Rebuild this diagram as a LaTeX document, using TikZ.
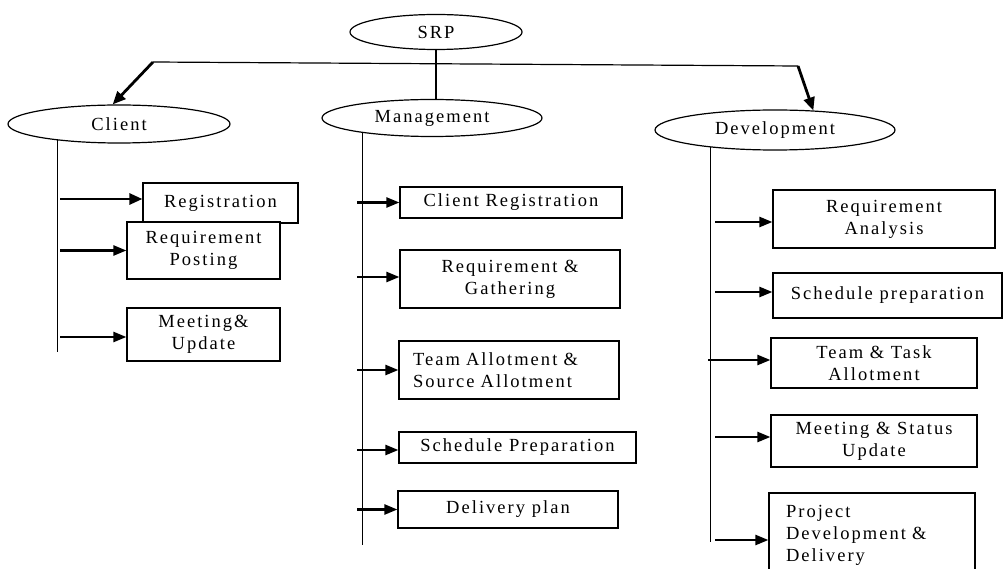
\documentclass[tikz,border=0pt]{standalone}
\usepackage{fontspec}
\setmainfont{Liberation Serif}[LetterSpace=11]
\usetikzlibrary{shapes.geometric,arrows.meta}
\newcommand\lbl{\fontsize{18.5}{22}\selectfont}
\tikzset{
  box/.style={draw, line width=1.2pt, rectangle, fill=white, inner sep=0pt, align=center, font=\lbl},
  oval/.style={draw, ellipse, line width=1.2pt, inner sep=0pt, font=\lbl},
  ln/.style={line width=1.2pt},
  arr/.style={line width=2.4pt, -{Triangle[length=13pt,width=10pt]}},
  bigarr/.style={line width=2.8pt, -{Triangle[length=13pt,width=11pt]}},
}
\begin{document}
\begin{tikzpicture}[x=1pt,y=-1pt]
\useasboundingbox[fill=white] (0,0) rectangle (1003,569);

% top level
\node[oval, minimum width=172pt, minimum height=35pt] (srp) at (436,32) {SRP};
\node[oval, minimum width=222pt, minimum height=38pt] (client) at (119,124) {Client};
\node[oval, minimum width=220pt, minimum height=37pt] (mgmt) at (432,118) {Management};
\node[oval, minimum width=240pt, minimum height=40pt] (dev) at (775,130) {Development};

\coordinate (hl) at (153,62);
\coordinate (hr) at (798,66);
\draw[ln] (hl) -- (hr);
\draw[ln] (srp.south) -- (srp.south |- mgmt.north);
\draw[bigarr] (hl) -- (client.108);
\draw[bigarr] (hr) -- (dev.27);

% Client branch
\node[box, minimum width=155pt, minimum height=40pt] (reg) at (220.5,203) {Registration};
\node[box, minimum width=153pt, minimum height=57pt] (rpost) at (203.5,250.5) {Requirement\\Posting};
\node[box, minimum width=153pt, minimum height=53pt] (meet) at (203.5,334.5) {Meeting\&\\Update};
\coordinate (cbot) at (60,352);
\draw[ln] (client.195.2) -- (client.195.2 |- cbot);
\draw[bigarr] ([yshift=4pt]reg.west -| cbot) -- ([yshift=4pt]reg.west);
\draw[arr] (rpost.west -| cbot) -- (rpost.west);
\draw[arr] ([yshift=-2.5pt]meet.west -| cbot) -- ([yshift=-2.5pt]meet.west);

% Management branch
\node[box, minimum width=222pt, minimum height=31pt] (creg) at (511,202.5) {Client Registration};
\node[box, minimum width=220pt, minimum height=58pt] (rgat) at (510,279) {Requirement \&\\Gathering};
\node[box, minimum width=220pt, minimum height=58pt, align=left, text width=192pt] (talt) at (509,370) {Team Allotment \&\\Source Allotment};
\node[box, minimum width=237pt, minimum height=31pt] (sprep) at (517.5,447.5) {Schedule Preparation};
\node[box, minimum width=220pt, minimum height=37pt] (dplan) at (508,509.5) {Delivery plan};
\coordinate (mbot) at (365,545);
\coordinate (mstart) at (357,0);
\draw[ln] (mgmt.192.4) -- (mgmt.192.4 |- mbot);
\draw[arr] (creg.west -| mstart) -- (creg.west);
\draw[arr] ([yshift=2pt]rgat.west -| mstart) -- ([yshift=2pt]rgat.west);
\draw[arr] (talt.west -| mstart) -- (talt.west);
\draw[arr] ([yshift=-2.5pt]sprep.west -| mstart) -- ([yshift=-2.5pt]sprep.west);
\draw[arr] (dplan.west -| mstart) -- (dplan.west);

% Development branch
\node[box, minimum width=222pt, minimum height=58pt] (ranal) at (884,219) {Requirement\\Analysis};
\node[box, minimum width=229pt, minimum height=45pt] (sprep2) at (887.5,295.5) {Schedule preparation};
\node[box, minimum width=206pt, minimum height=50pt] (ttask) at (874,363) {Team \& Task\\Allotment};
\node[box, minimum width=206pt, minimum height=52pt] (mstat) at (874,441) {Meeting \& Status\\Update};
\node[box, minimum width=206pt, minimum height=84pt, align=left, text width=172pt] (pdev) at (872,535) {Project\\Development \&\\Delivery};
\coordinate (dbot) at (715,542);
\coordinate (dstart) at (708,0);
\draw[ln] (dev.195.8) -- (dev.195.8 |- dbot);
\draw[arr] ([yshift=-3pt]ranal.west -| dbot) -- ([yshift=-3pt]ranal.west);
\draw[arr] ([yshift=3.5pt]sprep2.west -| dbot) -- ([yshift=3.5pt]sprep2.west);
\draw[arr] ([yshift=3pt]ttask.west -| dstart) -- ([yshift=3pt]ttask.west);
\draw[arr] ([yshift=4pt]mstat.west -| dbot) -- ([yshift=4pt]mstat.west);
\draw[arr] ([yshift=-5pt]pdev.west -| dbot) -- ([yshift=-5pt]pdev.west);
\end{tikzpicture}
\end{document}
